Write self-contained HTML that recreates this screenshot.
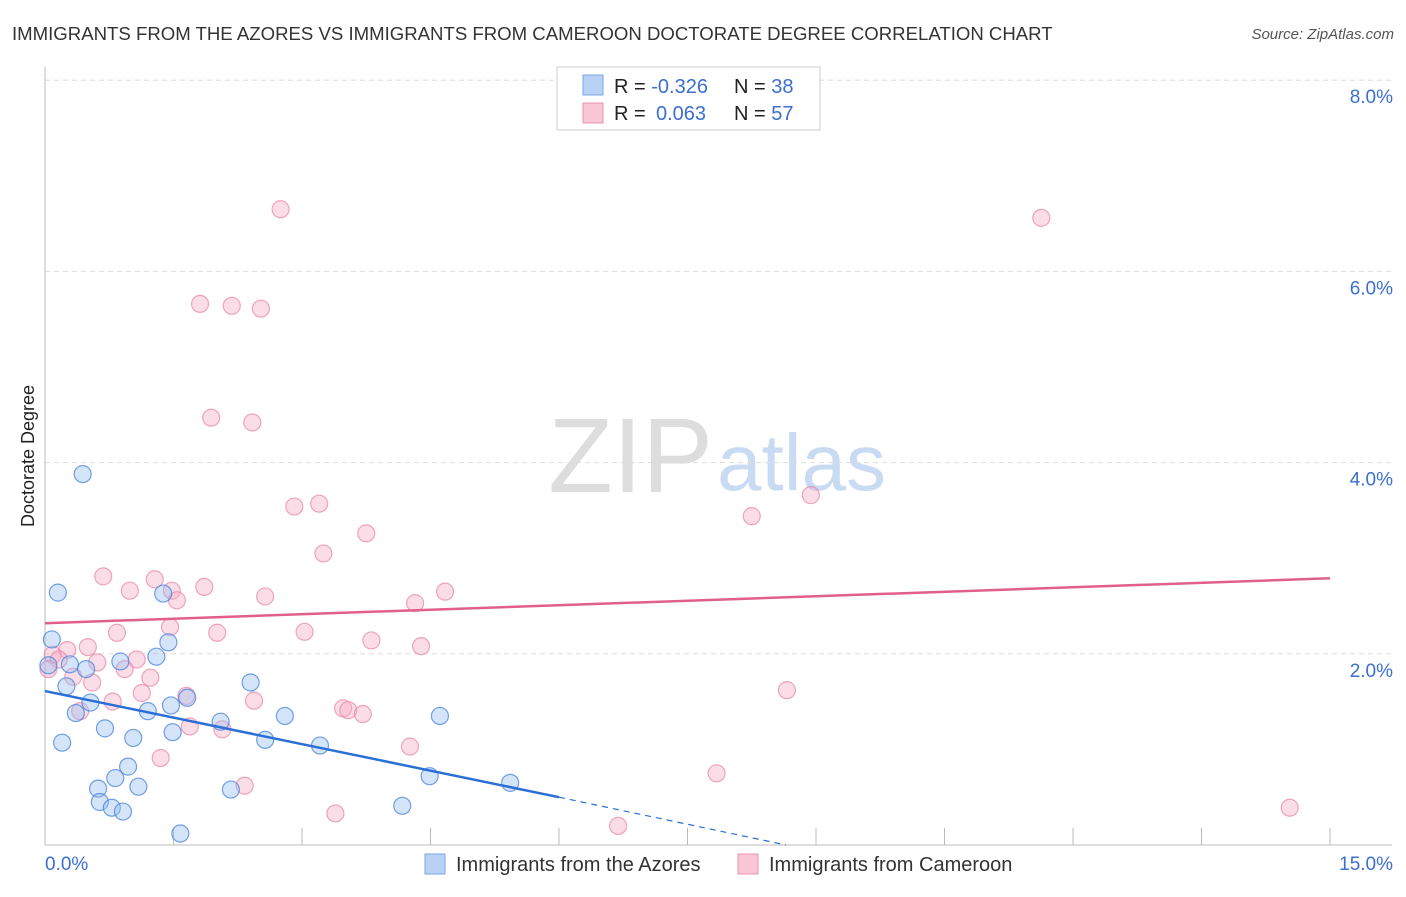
<!DOCTYPE html>
<html><head><meta charset="utf-8"><style>
body{margin:0;background:#fff;font-family:"Liberation Sans",sans-serif}
svg text{font-family:"Liberation Sans",sans-serif}
</style></head><body>
<svg id="c" width="1406" height="892" xmlns="http://www.w3.org/2000/svg">
<text x="12" y="40" font-size="18.6" fill="#333">IMMIGRANTS FROM THE AZORES VS IMMIGRANTS FROM CAMEROON DOCTORATE DEGREE CORRELATION CHART</text>
<text x="1394" y="39" font-size="15" fill="#555" font-style="italic" text-anchor="end">Source: ZipAtlas.com</text>
<text x="713" y="492" font-size="106" fill="#ddd" text-anchor="end" font-family="Liberation Serif">ZIP</text>
<text x="717" y="490" font-size="80" fill="#c9dbf2">atlas</text>
<text transform="translate(34,456) rotate(-90)" font-size="18" fill="#222" text-anchor="middle">Doctorate Degree</text>
<g id="grid"></g><g id="marks"></g>
<g>
<rect x="557" y="67" width="263" height="63" fill="#fff" stroke="#ccc"/>
<rect x="583" y="75" width="20" height="20" fill="#b8d2f5" stroke="#7aa6e6"/>
<rect x="583" y="103" width="20" height="20" fill="#f9c6d6" stroke="#eb93b0"/>
<text x="614" y="93" font-size="20" fill="#222">R = <tspan fill="#3b6fd1">-0.326</tspan></text>
<text x="734" y="93" font-size="20" fill="#222">N = <tspan fill="#3b6fd1">38</tspan></text>
<text x="614" y="120" font-size="20" fill="#222">R = <tspan fill="#3b6fd1" x="656">0.063</tspan></text>
<text x="734" y="120" font-size="20" fill="#222">N = <tspan fill="#3b6fd1">57</tspan></text>
</g>
<g>
<rect x="425" y="854" width="20" height="20" fill="#b8d2f5" stroke="#7aa6e6"/>
<text x="456" y="871" font-size="20" fill="#333">Immigrants from the Azores</text>
<rect x="738" y="854" width="20" height="20" fill="#f9c6d6" stroke="#eb93b0"/>
<text x="769" y="871" font-size="20" fill="#333">Immigrants from Cameroon</text>
</g>
</svg>
<script>
const blueX=[0.15,0.08,0.25,0.29,0.48,0.20,0.36,0.53,0.70,0.88,1.03,0.97,0.82,1.09,0.62,0.64,0.78,0.91,1.58,0.44,1.38,1.44,1.30,1.20,1.49,1.47,1.66,2.05,2.17,2.40,2.57,2.80,3.21,4.17,4.49,4.61,5.43,0.04];
const blueY=[2.64,2.15,1.66,1.89,1.84,1.07,1.38,1.49,1.22,1.92,1.12,0.82,0.70,0.61,0.59,0.45,0.39,0.35,0.12,3.88,2.63,2.12,1.97,1.40,1.18,1.46,1.54,1.29,0.58,1.70,1.10,1.35,1.04,0.41,0.72,1.35,0.65,1.88];
const pinkX=[2.75,11.63,1.81,2.18,2.52,1.94,2.42,2.91,3.20,3.75,3.25,8.94,8.25,0.68,1.28,1.48,0.99,1.86,1.54,2.57,4.32,4.67,0.84,1.46,2.01,3.03,3.81,4.39,0.50,0.26,0.09,0.16,0.61,1.07,0.04,0.33,0.93,0.55,1.23,0.79,1.13,1.65,0.41,2.44,3.48,3.54,3.71,1.69,2.07,4.26,1.35,2.33,8.66,7.84,3.39,6.69,14.53];
const pinkY=[6.65,6.56,5.66,5.64,5.61,4.47,4.42,3.54,3.57,3.26,3.05,3.66,3.44,2.81,2.78,2.66,2.66,2.70,2.56,2.60,2.53,2.65,2.22,2.28,2.22,2.23,2.14,2.08,2.07,2.04,1.99,1.94,1.91,1.94,1.84,1.76,1.84,1.70,1.75,1.50,1.59,1.56,1.40,1.51,1.43,1.41,1.37,1.24,1.21,1.03,0.91,0.62,1.62,0.75,0.33,0.20,0.39];
const yTicks=[2,4,6,8];
const xTickVals=[0,1.5,3,4.5,6,7.5,9,10.5,12,13.5,15];
const blueTrend=[1.61,0.50,0.0];
const blueTrendX=[0,6.0,8.65];
const pinkTrend=[2.32,2.79];
const X=v=>45+v/15*1285, Y=v=>845-v*95.6;
const NS="http://www.w3.org/2000/svg";
function mk(t,a,p){const e=document.createElementNS(NS,t);for(const k in a)e.setAttribute(k,a[k]);p.appendChild(e);return e;}
const g=document.getElementById('grid'), m=document.getElementById('marks');
yTicks.forEach(t=>{
 const l=mk('line',{x1:45,x2:1392,y1:Y(t),y2:Y(t),stroke:'#ddd','stroke-dasharray':'5,4'},g);
 
 
 const tx=mk('text',{x:1393,y:Y(t)+23,'font-size':19,fill:'#3b6fd1','text-anchor':'end'},g);tx.textContent=t.toFixed(1)+'%';
 
 
});
mk('line',{x1:45,x2:45,y1:67,y2:845,stroke:'#bbb'},g);
mk('line',{x1:45,x2:1392,y1:845,y2:845,stroke:'#bbb'},g);
xTickVals.forEach(t=>{const l=mk('line',{x1:X(t),x2:X(t),y1:828,y2:845,stroke:'#bbb'},g);
 
 });
let a=mk('text',{x:45,y:870,'font-size':19,fill:'#3b6fd1'},g);a.textContent='0.0%';


a=mk('text',{x:1393,y:870,'font-size':19,fill:'#3b6fd1','text-anchor':'end'},g);a.textContent='15.0%';


pinkX.forEach((v,i)=>{const c=mk('circle',{cx:X(v),cy:Y(pinkY[i]),r:8.5,fill:'rgba(246,170,196,0.4)',stroke:'rgba(232,130,165,0.7)','stroke-width':1.2},m);
 
 });
blueX.forEach((v,i)=>{const c=mk('circle',{cx:X(v),cy:Y(blueY[i]),r:8.5,fill:'rgba(150,190,240,0.4)',stroke:'rgba(70,130,220,0.75)','stroke-width':1.2},m);
 
 });
let l=mk('line',{x1:X(0),y1:Y(pinkTrend[0]),x2:X(15),y2:Y(pinkTrend[1]),stroke:'#e0608a','stroke-width':2.5},m);


l=mk('line',{x1:X(blueTrendX[0]),y1:Y(blueTrend[0]),x2:X(blueTrendX[1]),y2:Y(blueTrend[1]),stroke:'#2a6fd6','stroke-width':2.5},m);


l=mk('line',{x1:X(blueTrendX[1]),y1:Y(blueTrend[1]),x2:X(blueTrendX[2]),y2:Y(blueTrend[2]),stroke:'#2a6fd6','stroke-width':1.2,'stroke-dasharray':'6,5'},m);


</script>
</body></html>
